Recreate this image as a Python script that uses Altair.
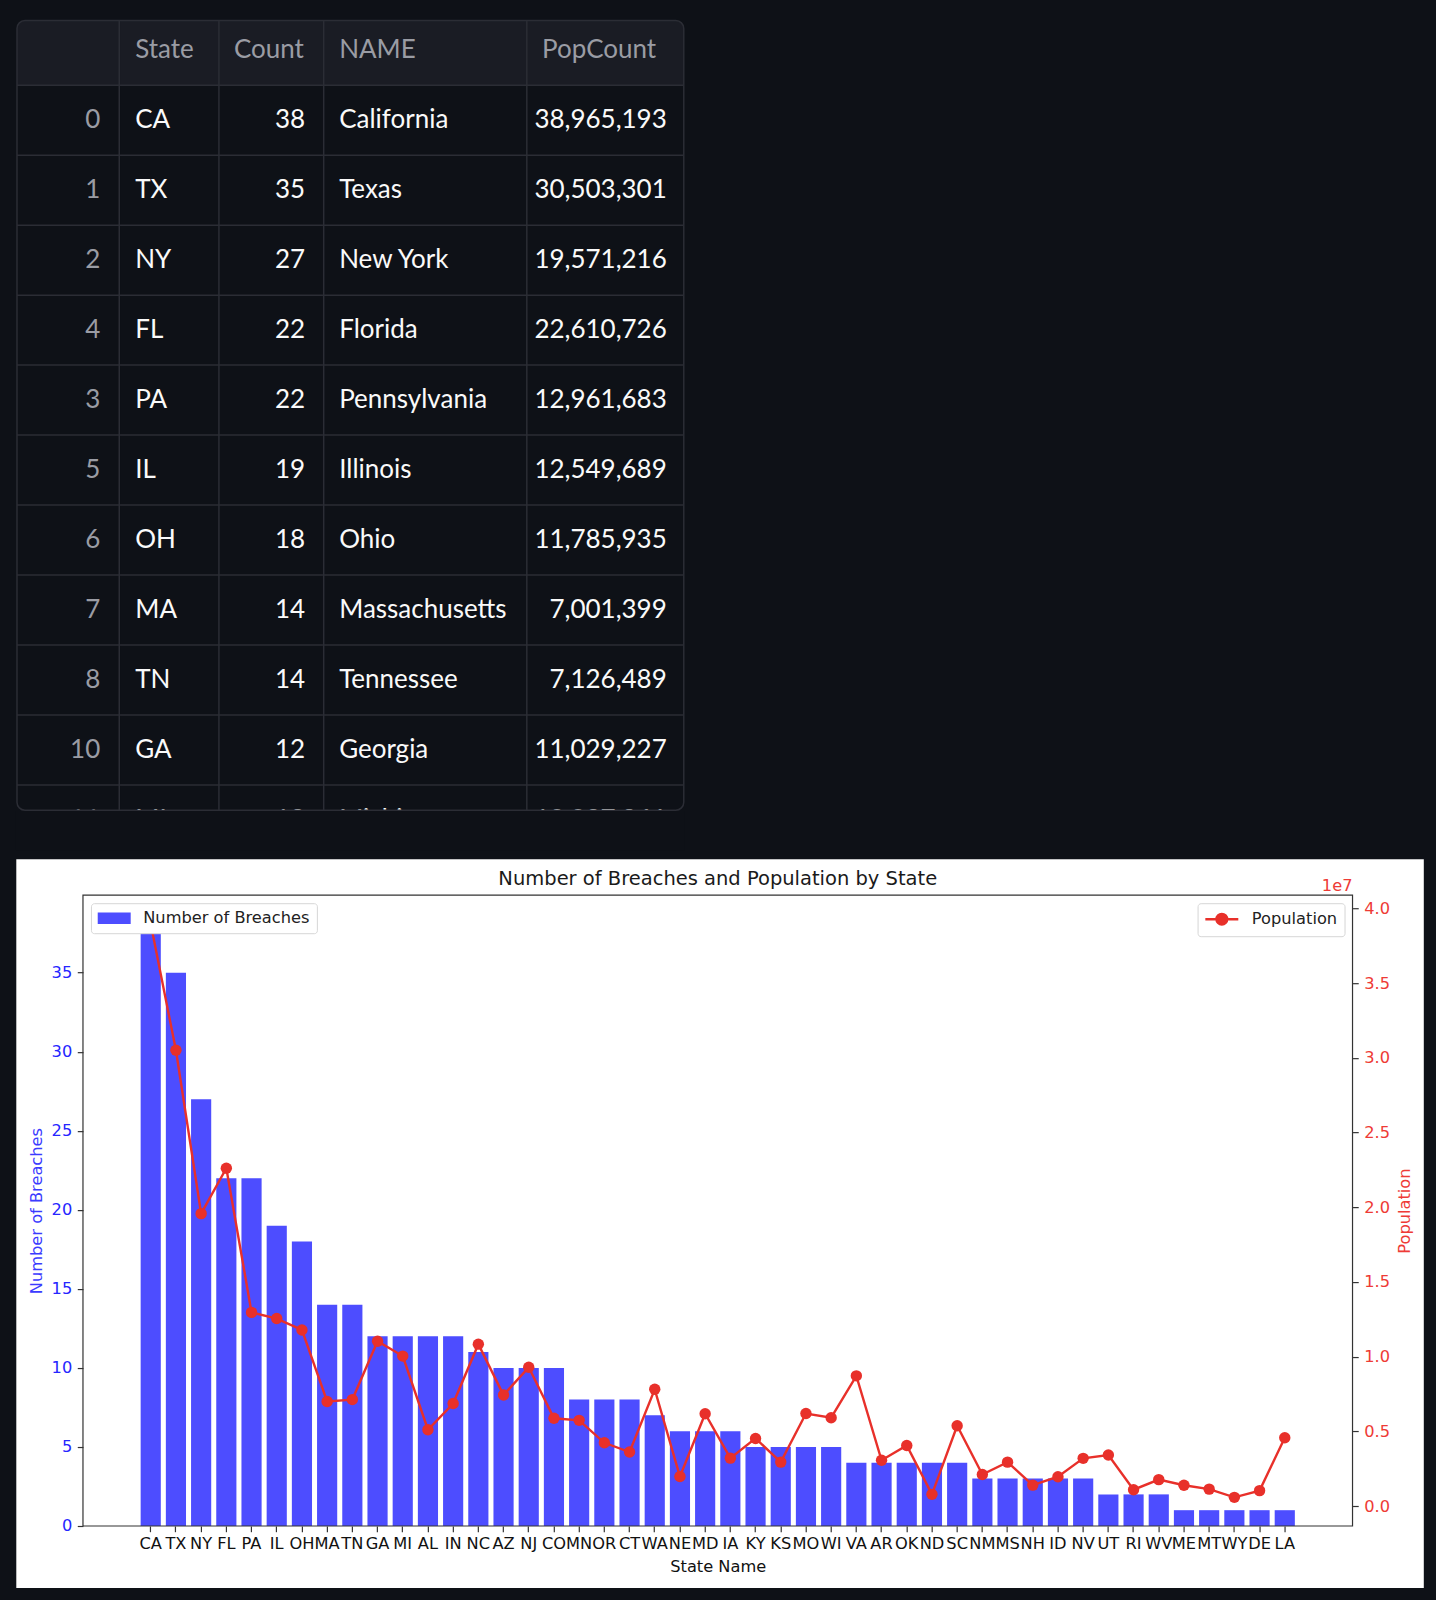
import altair as alt
import pandas as pd

# ---------------- data ----------------
states = ["CA", "TX", "NY", "FL", "PA", "IL", "OH", "MA", "TN", "GA", "MI", "AL", "IN", "NC",
          "AZ", "NJ", "CO", "MN", "OR", "CT", "WA", "NE", "MD", "IA", "KY", "KS", "MO", "WI",
          "VA", "AR", "OK", "ND", "SC", "NM", "MS", "NH", "ID", "NV", "UT", "RI", "WV", "ME",
          "MT", "WY", "DE", "LA"]
counts = [38, 35, 27, 22, 22, 19, 18, 14, 14, 12, 12, 12, 12, 11,
          10, 10, 10, 8, 8, 8, 7, 6, 6, 6, 5, 5, 5, 5,
          4, 4, 4, 4, 4, 3, 3, 3, 3, 3, 2, 2, 2, 1,
          1, 1, 1, 1]
populations = [38965193, 30503301, 19571216, 22610726, 12961683, 12549689, 11785935,
               7001399, 7126489, 11029227, 10037261, 5108468, 6862199, 10835491,
               7431344, 9290841, 5877610, 5737915, 4233358, 3617176, 7812880, 1978379,
               6180253, 3207004, 4526154, 2940546, 6196156, 5910955, 8715698, 3067732,
               4053824, 783926, 5373555, 2114371, 2939690, 1402054, 1964726, 3194176,
               3417734, 1095962, 1770071, 1395722, 1132812, 584057, 1031890, 4573749]

table_index = [0, 1, 2, 4, 3, 5, 6, 7, 8, 10, 11]
table_states = ["CA", "TX", "NY", "FL", "PA", "IL", "OH", "MA", "TN", "GA", "MI"]
table_counts = [38, 35, 27, 22, 22, 19, 18, 14, 14, 12, 12]
table_names = ["California", "Texas", "New York", "Florida", "Pennsylvania", "Illinois",
               "Ohio", "Massachusetts", "Tennessee", "Georgia", "Michigan"]
table_pops = [38965193, 30503301, 19571216, 22610726, 12961683, 12549689, 11785935,
              7001399, 7126489, 11029227, 10037261]
table_headers = ["State", "Count", "NAME", "PopCount"]

chart_title = "Number of Breaches and Population by State"

# ---------------- style ----------------
PAGE_BG = "#0e1117"
HEAD_BG = "#1a1c24"
GRID = "#2b2d35"
TXT = "#fafafa"
TXT_DIM = "#9a9ca4"
TFONT = "Lato"
TSIZE = 26

BLUE = "#4d4dff"
BLUE_TXT = "#2626ff"
RED = "#e8302a"
RED_TXT = "#ee3b36"
FONT = "DejaVu Sans"
FS = 16.25

# ---------------- table ----------------
tbl = pd.DataFrame({"idx": table_index, "State": table_states, "Count": table_counts,
                    "NAME": table_names, "PopCount": table_pops})
tbl["r"] = list(range(len(tbl)))

T0 = -66.0          # table left edge relative to view origin
TW, TH = 667.0, 790.0
HEAD_H = 64.7
ROW_H = 70.0
yscale = alt.Scale(domain=[-HEAD_H / ROW_H, (TH - HEAD_H) / ROW_H], reverse=True,
                   nice=False, zero=False)

base_t = alt.Chart(tbl).transform_calculate(mid="datum.r + 0.5")
one = alt.Chart(pd.DataFrame({"k": [0]}))

header_bg = one.mark_rect(color=HEAD_BG, cornerRadiusTopLeft=8, cornerRadiusTopRight=8).encode(
    x=alt.value(T0), x2=alt.value(T0 + TW), y=alt.value(0), y2=alt.value(HEAD_H))

hlines = base_t.mark_rule(color=GRID, strokeWidth=1.5).encode(
    y=alt.Y("r:Q", scale=yscale, axis=None), x=alt.value(T0), x2=alt.value(T0 + TW))

col_bounds = [102.3, 202.0, 306.8, 510.0]
vlines = [one.mark_rule(color=GRID, strokeWidth=1.5).encode(
    x=alt.value(T0 + c), y=alt.value(0), y2=alt.value(TH)) for c in col_bounds]


def col_text(field, xpos, align, color, fmt=None):
    txt = alt.Text(f"{field}:Q", format=fmt) if fmt else alt.Text(f"{field}:N")
    return base_t.mark_text(align=align, baseline="middle", font=TFONT, fontSize=TSIZE,
                            color=color).encode(
        x=alt.value(T0 + xpos), y=alt.Y("mid:Q", scale=yscale, axis=None), text=txt)


texts = [
    col_text("idx", 83.3, "right", TXT_DIM, ","),
    col_text("State", 118.3, "left", TXT),
    col_text("Count", 288.3, "right", TXT, ","),
    col_text("NAME", 322.3, "left", TXT),
    col_text("PopCount", 650.0, "right", TXT, ","),
]

head_x = [118.3, 217.0, 322.3, 525.3]
head_texts = [alt.Chart(pd.DataFrame({"h": [h]})).mark_text(
    align="left", baseline="middle", font=TFONT, fontSize=TSIZE, color=TXT_DIM).encode(
    x=alt.value(T0 + hx), y=alt.value(HEAD_H / 2 - 3), text="h:N")
    for h, hx in zip(table_headers, head_x)]

# hides the part of the last (scrolled) row that lies below the table frame
cover = one.mark_rect(color=PAGE_BG).encode(
    x=alt.value(T0 - 1), x2=alt.value(T0 + TW + 1), y=alt.value(TH + 0.7),
    y2=alt.value(TH + 40))

border = one.mark_rect(fillOpacity=0, stroke=GRID, strokeWidth=1.5, cornerRadius=8).encode(
    x=alt.value(T0), x2=alt.value(T0 + TW), y=alt.value(0), y2=alt.value(TH))

table = alt.layer(header_bg, hlines, *vlines, *texts, *head_texts, cover, border).properties(
    width=TW + T0, height=TH)

# ---------------- chart ----------------
df = pd.DataFrame({"State": states, "Count": counts, "Pop": populations})

W, H = 1270, 631
cmax = max(counts) * 1.05
pmin, pmax = min(populations), max(populations)
pad = 0.05 * (pmax - pmin)

x_enc = alt.X("State:N", sort=states,
              scale=alt.Scale(range=[57.7, 1212.3], paddingInner=0.2, paddingOuter=0),
              axis=alt.Axis(title="State Name", labelAngle=0, labelOverlap=False,
                            bandPosition=0.5, domain=False, tickColor="#333",
                            tickSize=5.7, tickWidth=1.2, labelPadding=4, labelFont=FONT,
                            labelFontSize=FS, labelColor="#111", titleFont=FONT,
                            titleFontSize=FS, titleFontWeight="normal", titleColor="#111",
                            titlePadding=7, zindex=1))

y_left = alt.Y("Count:Q",
               scale=alt.Scale(domain=[0, cmax], nice=False, zero=False),
               axis=alt.Axis(title="Number of Breaches", values=list(range(0, 40, 5)),
                             grid=False, domain=False, tickColor="#333", tickSize=5.7,
                             tickWidth=1.2, labelPadding=5.5, labelFont=FONT,
                             labelFontSize=FS, labelColor=BLUE_TXT, titleFont=FONT,
                             titleFontSize=FS, titleFontWeight="normal",
                             titleColor="#3b3bff", titlePadding=7, zindex=1))

y_right = alt.Y("Pop:Q",
                scale=alt.Scale(domain=[pmin - pad, pmax + pad], nice=False, zero=False),
                axis=alt.Axis(title="Population", orient="right",
                              values=[i * 5e6 for i in range(9)],
                              labelExpr="format(datum.value / 1e7, '.1f')",
                              grid=False, domain=False, tickColor="#333", tickSize=5.7,
                              tickWidth=1.2, labelPadding=5.5, labelFont=FONT,
                              labelFontSize=FS, labelColor=RED_TXT, titleFont=FONT,
                              titleFontSize=FS, titleFontWeight="normal",
                              titleColor=RED_TXT, titleAngle=270, titleBaseline="top",
                              titlePadding=7, zindex=1))

white_bg = one.mark_rect(color="white").encode(
    x=alt.value(-66.7), x2=alt.value(W + 71.3), y=alt.value(-36), y2=alt.value(H + 62))

legend_common = dict(title=None, offset=8.1, fillColor="white", strokeColor="#d6d6d6",
                     cornerRadius=3, padding=6.5, symbolSize=272, symbolOffset=8.25,
                     labelOffset=20.5, labelFont=FONT, labelFontSize=FS, labelLimit=400,
                     labelColor="#222", zindex=1)

bars = alt.Chart(df).transform_calculate(series="'Number of Breaches'").mark_bar(
    opacity=1).encode(
    x=x_enc, y=y_left,
    color=alt.Color("series:N", scale=alt.Scale(range=[BLUE]),
                    legend=alt.Legend(orient="top-left",
                                      symbolType="M-2,-0.7H2V0.7H-2Z",
                                      symbolStrokeWidth=0, **legend_common)))

line = alt.Chart(df).mark_line(color=RED, strokeWidth=2.4).encode(x=x_enc, y=y_right)
points = alt.Chart(df).transform_calculate(series2="'Population'").mark_point(
    filled=True, size=130, opacity=1).encode(
    x=x_enc, y=y_right,
    fill=alt.Fill("series2:N", scale=alt.Scale(range=[RED]),
                  legend=alt.Legend(orient="top-right",
                                    symbolType="M-2,0H2M-0.65,0A0.65,0.65,0,1,0,0.65,0A0.65,0.65,0,1,0,-0.65,0Z",
                                    symbolStrokeColor=RED, symbolStrokeWidth=2.4,
                                    **legend_common)))

pop_layer = alt.layer(line, points)

title_txt = alt.Chart(pd.DataFrame({"t": [chart_title]})).mark_text(
    font=FONT, fontSize=19.5, color="#1a1a1a", baseline="middle", align="center").encode(
    x=alt.value(W / 2), y=alt.value(-16), text="t:N")

exp_txt = alt.Chart(pd.DataFrame({"t": ["1e7"]})).mark_text(
    font=FONT, fontSize=FS, color=RED_TXT, baseline="alphabetic", align="right").encode(
    x=alt.value(W), y=alt.value(-4), text="t:N")

frame = one.mark_rect(fillOpacity=0, stroke="#333", strokeWidth=1.2).encode(
    x=alt.value(0), x2=alt.value(W), y=alt.value(0), y2=alt.value(H))

main = alt.layer(white_bg, bars, pop_layer, title_txt, exp_txt, frame).resolve_scale(
    y="independent", color="independent", fill="independent").properties(width=W, height=H)

chart = alt.vconcat(table, main, spacing=9).properties(
    padding={"left": 16, "top": 19.25, "right": 11.5, "bottom": 20},
    background=PAGE_BG,
).configure_view(strokeWidth=0)

chart.save("out.html", embed_options={"renderer": "svg", "actions": False})
